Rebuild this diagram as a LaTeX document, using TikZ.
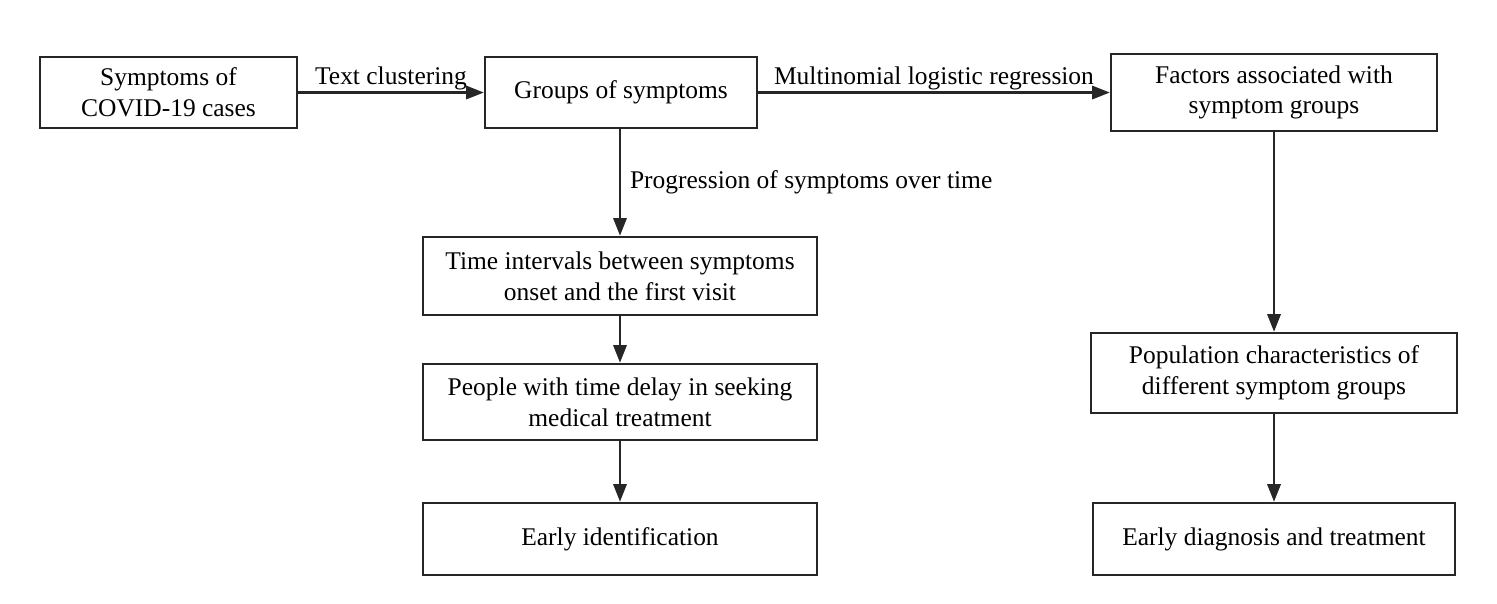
\documentclass[tikz,border=0pt]{standalone}
\usepackage{fontspec}
\setmainfont{Liberation Serif}
\usetikzlibrary{arrows.meta}
\begin{document}
\begin{tikzpicture}[x=0.02cm, y=-0.02cm,
    box/.style={draw=black!85, line width=1.4pt, align=center, inner sep=2pt,
        font=\fontsize{14.5}{17.5}\selectfont},
    arr/.style={draw=black!85, line width=1.4pt, -{Triangle[length=10pt, width=7.5pt]}},
    lbl/.style={font=\fontsize{14.5}{17.5}\selectfont, inner sep=1pt}]
    % Background
    \useasboundingbox (0,0) rectangle (1497,603);

    % Top row
    \node[box, minimum width=5.14cm, minimum height=1.42cm] (cases) at (168.5,92.5) {Symptoms of\\COVID-19 cases};
    \node[box, minimum width=5.44cm, minimum height=1.42cm] (groups) at (621,92.5) {Groups of symptoms};
    \node[box, minimum width=6.52cm, minimum height=1.54cm] (factors) at (1274,92.5) {Factors associated with\\symptom groups};

    % Left column
    \node[box, minimum width=7.88cm, minimum height=1.56cm] (interval) at (620,276) {Time intervals between symptoms\\onset and the first visit};
    \node[box, minimum width=7.88cm, minimum height=1.52cm] (delay) at (620,402) {People with time delay in seeking\\medical treatment};
    \node[box, minimum width=7.88cm, minimum height=1.44cm] (early) at (620,539) {Early identification};

    % Right column
    \node[box, minimum width=7.32cm, minimum height=1.60cm] (popul) at (1274,373) {Population characteristics of\\different symptom groups};
    \node[box, minimum width=7.24cm, minimum height=1.44cm] (diag) at (1274,539) {Early diagnosis and treatment};

    % Connectors
    \draw[arr] (cases) -- node[lbl, above] {Text clustering} (groups);
    \draw[arr] (groups) -- node[lbl, above] {Multinomial logistic regression} (factors);
    \draw[arr] (groups.south -| interval.north) -- node[lbl, right=4pt, pos=0.5] {Progression of symptoms over time} (interval.north);
    \foreach \a/\b in {interval/delay, delay/early, factors/popul, popul/diag} {
        \draw[arr] (\a) -- (\b);
    }
\end{tikzpicture}
\end{document}
